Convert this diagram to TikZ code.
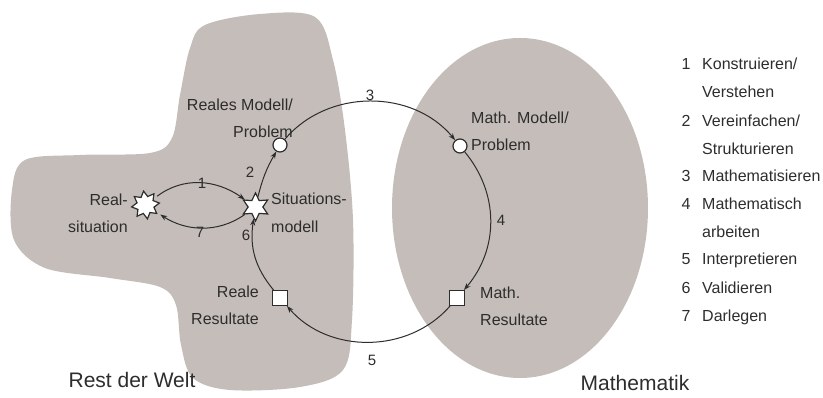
\documentclass[tikz,border=0pt]{standalone}
\usepackage{fontspec}
\setmainfont{Liberation Sans}
\usetikzlibrary{shapes.geometric,arrows.meta}
\definecolor{blob}{RGB}{197,189,185}
\definecolor{ink}{RGB}{45,45,45}
\begin{document}
\begin{tikzpicture}[x=1pt,y=1pt,
  lbl/.style={font=\fontsize{16}{27.5}\selectfont, text=ink, inner sep=0pt},
  num/.style={font=\fontsize{15}{18}\selectfont, text=ink, inner sep=1pt},
  title/.style={font=\fontsize{21}{25}\selectfont, text=ink, inner sep=0pt},
  leg/.style={font=\fontsize{16}{18}\selectfont, text=ink, anchor=west, inner sep=0pt, text height=11.5pt, text depth=3pt},
  legnum/.style={font=\fontsize{16}{18}\selectfont, text=ink, inner sep=0pt, text height=11.5pt, text depth=3pt},
  starnode/.style={star, minimum size=28pt, inner sep=0pt, draw=ink, fill=white, line width=1.2pt},
  circnode/.style={circle, minimum size=14pt, inner sep=0pt, draw=ink, fill=white, line width=1.2pt},
  sqnode/.style={rectangle, minimum size=15pt, inner sep=0pt, draw=ink, fill=white, line width=1pt},
  arr/.style={draw=ink, line width=1pt, -{Stealth[length=7pt,width=5pt]}}
]
\useasboundingbox (0,0) rectangle (823,398);
% regions
\fill[blob] plot[smooth cycle, tension=0.55] coordinates {
  (190,350) (205,373) (260,384) (315,381) (333,338) (345,268) (353,178)
  (352,78) (343,28) (300,11) (230,8) (193,20) (181,53) (176,93) (160,111)
  (110,120) (45,130) (14,158) (12,208) (25,238) (80,243) (150,245)
  (172,260) (180,303)};
\fill[blob] (520,190) ellipse [x radius=128, y radius=170];
\node[title] (rw) at (132,18) {Rest der Welt};
\node[title] (ma) at (635,15) {Mathematik};
% nodes
\node[starnode, star points=8, star point ratio=1.6, rotate=8] (rs) at (145.5,193) {};
\node[starnode, star points=6, star point ratio=1.9] (sm) at (255.5,191) {};
\node[circnode] (rm) at (280,253) {};
\node[circnode] (mm) at (460,252) {};
\node[sqnode] (mr) at (457,100) {};
\node[sqnode] (rr) at (280,100) {};
% labels
\node[lbl, anchor=east, align=right] (lrs) at (128,184.5) {Real-\\situation};
\node[lbl, anchor=west, align=left] (lsm) at (271,185) {Situations-\\modell};
\node[lbl, anchor=east, align=right] (lrm) at (293,279.5) {Reales Modell/\\Problem};
\node[lbl, anchor=west, align=left] (lmm) at (471,266.5) {Math. Modell/\\Problem};
\node[lbl, anchor=west, align=left] (lmr) at (480,91.5) {Math.\\Resultate};
\node[lbl, anchor=east, align=right] (lrr) at (259,92.5) {Reale\\Resultate};
% connectors
\draw[arr, shorten <=4pt] (rs) to[out=35,in=145] (sm);
\draw[arr, shorten >=4pt] (sm) to[out=215,in=-35] (rs);
\draw[arr] (sm) to[bend left=8] (rm);
\draw[arr] (rm) to[bend left=50] (mm);
\draw[arr] (mm) to[bend left=40] (mr);
\draw[arr] (mr) to[bend left=49] (rr);
\draw[arr] (rr) to[bend left=24] (sm);
% step numbers
\node[num] (n1) at (202,215) {1};
\node[num] (n7) at (200,166) {7};
\node[num] (n2) at (250,226) {2};
\node[num] (n3) at (370,303) {3};
\node[num] (n4) at (501,178) {4};
\node[num] (n5) at (372,38) {5};
\node[num] (n6) at (246,163) {6};
% legend
\node[legnum] (g1) at (686,333) {1};
\node[leg] (t1a) at (702,333) {Konstruieren/};
\node[leg] (t1b) at (702,305) {Verstehen};
\node[legnum] (g2) at (686,276) {2};
\node[leg] (t2a) at (702,276) {Vereinfachen/};
\node[leg] (t2b) at (702,248) {Strukturieren};
\node[legnum] (g3) at (686,221) {3};
\node[leg] (t3) at (702,221) {Mathematisieren};
\node[legnum] (g4) at (686,193) {4};
\node[leg] (t4a) at (702,193) {Mathematisch};
\node[leg] (t4b) at (702,165) {arbeiten};
\node[legnum] (g5) at (686,138) {5};
\node[leg] (t5) at (702,138) {Interpretieren};
\node[legnum] (g6) at (686,109) {6};
\node[leg] (t6) at (702,109) {Validieren};
\node[legnum] (g7) at (686,81) {7};
\node[leg] (t7) at (702,81) {Darlegen};
\end{tikzpicture}
\end{document}
